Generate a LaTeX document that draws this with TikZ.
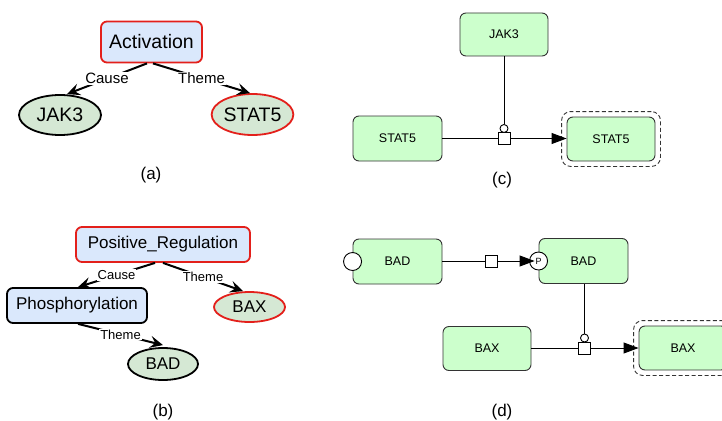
\documentclass[tikz,border=0pt]{standalone}
\usepackage{fontspec}
\setmainfont{Liberation Sans}
\usetikzlibrary{arrows.meta,fit,shapes.geometric}
\definecolor{evblue}{HTML}{DAE8FC}
\definecolor{entgreen}{HTML}{D5E8D4}
\definecolor{sbgreen}{HTML}{CCFFCC}
\definecolor{evred}{HTML}{E3201B}
\definecolor{sbline}{HTML}{333333}

\tikzset{
  fs/.style={font=\fontsize{#1}{#1}\selectfont},
  event/.style={draw, line width=1.8pt, rounded corners=6pt, fill=evblue, inner sep=0pt},
  entity/.style={ellipse, draw, line width=1.8pt, fill=entgreen, inner sep=0pt},
  rel/.style={line width=2pt, -{Stealth[length=13pt,width=12pt,inset=5pt]}},
  rellabel/.style={fill=white, inner sep=1pt, midway},
  glyph/.style={draw=sbline, line width=0.9pt, rounded corners=6pt, fill=sbgreen,
    minimum width=88pt, minimum height=44pt, inner sep=0pt, fs=12.5},
  proc/.style={draw, line width=0.9pt, fill=white, minimum size=12pt, inner sep=0pt},
  modcirc/.style={circle, draw, line width=0.9pt, fill=white, minimum size=8pt, inner sep=0pt},
  statevar/.style={circle, draw, line width=0.9pt, fill=white, minimum size=18pt, inner sep=0pt, fs=9},
  flow/.style={line width=0.9pt},
  prod/.style={line width=0.9pt, -{Triangle[length=15pt,width=11pt]}},
  caption/.style={fs=17},
  complexring/.style={draw=sbline, line width=0.9pt, dash pattern=on 4pt off 2.5pt,
    rounded corners=9pt, inner sep=5pt},
}

\begin{document}
\begin{tikzpicture}[x=1pt, y=-1pt]
\useasboundingbox (0,0) rectangle (722,420);

% ---------- (a) event structure ----------
\node[event, draw=evred, minimum width=101pt, minimum height=41pt, fs=19.5] (act) at (151.5,42) {Activation};
\node[entity, minimum width=82pt, minimum height=40pt, fs=19.5] (jakA) at (60,115) {JAK3};
\node[entity, draw=evred, minimum width=81pt, minimum height=41pt, fs=19.5] (statA) at (252.5,114.5) {STAT5};
\draw[rel] ([xshift=-4.5pt]act.south) -- node[rellabel, fs=15] {Cause} ([xshift=7pt]jakA.north);
\draw[rel] ([xshift=1.5pt]act.south) -- node[rellabel, fs=15] {Theme} ([xshift=-2.5pt]statA.north);
\node[caption] (capA) at (151,175) {(a)};

% ---------- (b) nested event structure ----------
\node[event, draw=evred, minimum width=174pt, minimum height=35pt, fs=17] (preg) at (163,244.5) {Positive\_Regulation};
\node[event, minimum width=140pt, minimum height=35pt, fs=17] (phos) at (77,305.5) {Phosphorylation};
\node[entity, draw=evred, minimum width=71pt, minimum height=30pt, fs=17] (baxB) at (249.5,307) {BAX};
\node[entity, minimum width=70pt, minimum height=32pt, fs=17] (badB) at (163,364) {BAD};
\draw[rel] ([xshift=-8pt]preg.south) -- node[rellabel, fs=13] {Cause} ([xshift=1pt]phos.north);
\draw[rel] (preg.south) -- node[rellabel, fs=13] {Theme} ([xshift=-6.5pt]baxB.north);
\draw[rel] ([xshift=1pt]phos.south) -- node[rellabel, fs=13] {Theme} ([yshift=2pt]badB.north);
\node[caption] (capB) at (163,412) {(b)};

% ---------- (c) SBGN process: JAK3 catalyses STAT5 ----------
\node[glyph, minimum height=43pt] (jakC) at (504,34.5) {JAK3};
\node[glyph, minimum width=89pt, minimum height=45pt] (statC1) at (397.5,138.5) {STAT5};
\node[glyph] (statC2) at (611,139) {STAT5};
\node[complexring, fit=(statC2)] (ringC) {};
\node[proc] (procC) at (504,138.5) {};
\node[modcirc] (catC) at (504,128.5) {};
\draw[flow] (jakC) -- (catC);
\draw[flow] (statC1.east) -- (procC);
\draw[prod] (procC) -- (statC2.west |- procC);
\node[caption] (capC) at (502,180) {(c)};

% ---------- (d) SBGN: BAD phosphorylation stimulates BAX ----------
\node[glyph, minimum width=89pt, minimum height=45pt] (badD1) at (397.5,261.5) {BAD};
\node[statevar] (svD1) at (badD1.west) {};
\node[glyph, minimum width=89pt, minimum height=45pt] (badD2) at (583.5,261) {BAD};
\node[statevar] (svD2) at (badD2.west) {P};
\node[proc] (procD1) at (491,261) {};
\draw[flow] (badD1.east |- procD1) -- (procD1);
\draw[prod] (procD1) -- ([xshift=-4pt]svD2.center);

\node[glyph] (baxD1) at (487,348.5) {BAX};
\node[glyph] (baxD2) at (683,348) {BAX};
\node[complexring, fit=(baxD2)] (ringD) {};
\node[proc] (procD2) at (584.5,348) {};
\node[modcirc] (catD) at (584.5,338) {};
\draw[flow] (badD2.south -| catD) -- (catD);
\draw[flow] (baxD1.east |- procD2) -- (procD2);
\draw[prod] (procD2) -- (baxD2.west |- procD2);
\node[caption] (capD) at (502,412) {(d)};
\end{tikzpicture}
\end{document}
